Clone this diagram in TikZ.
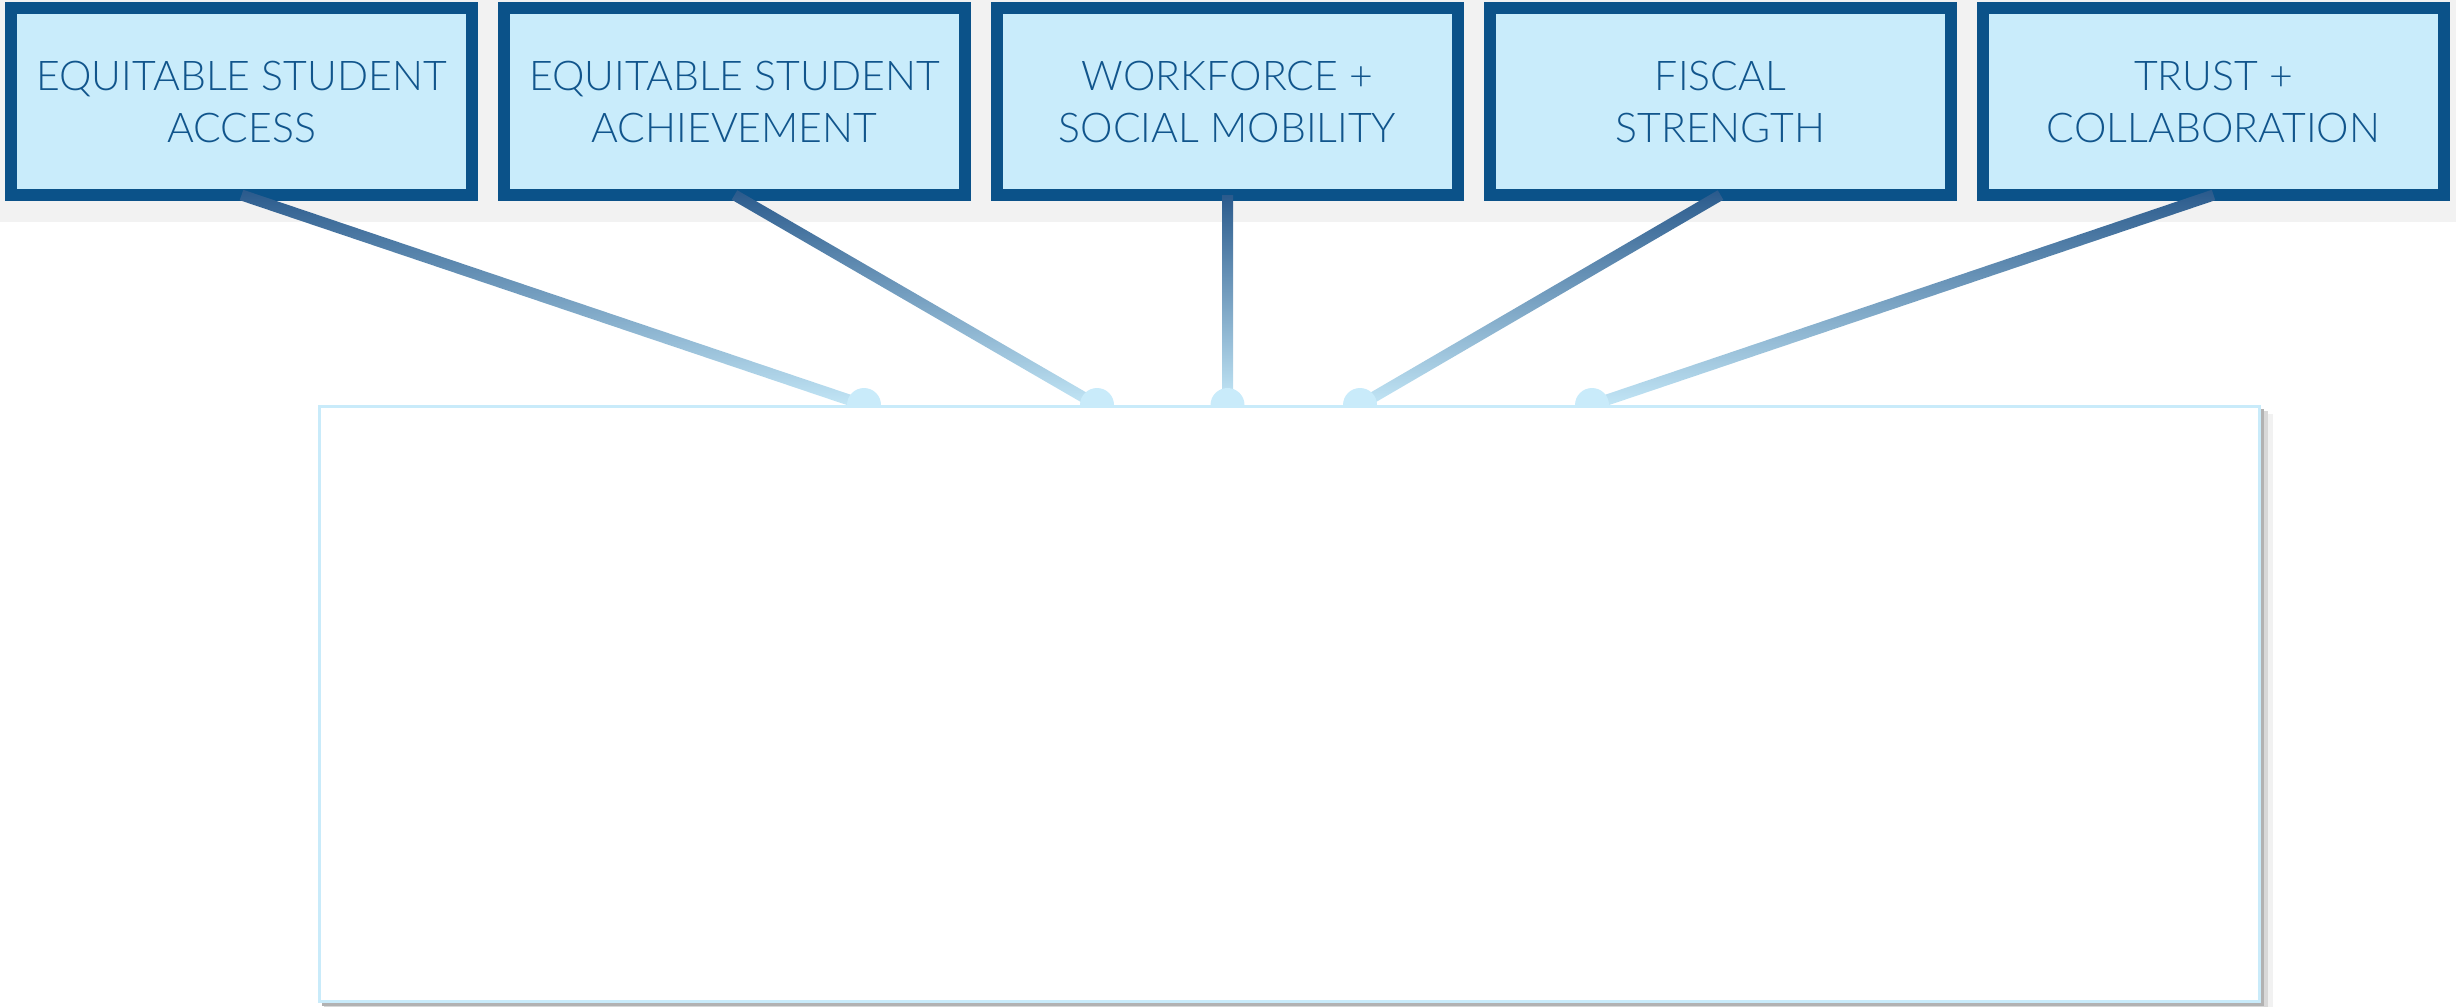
\documentclass[tikz,border=0pt]{standalone}
\usepackage{fontspec}
\setmainfont{Lato}[UprightFont=* Light]
\usetikzlibrary{calc}
\definecolor{navy}{HTML}{0B5289}
\definecolor{paleblue}{HTML}{C9ECFB}
\definecolor{labelblue}{HTML}{11558C}
\definecolor{bandgrey}{HTML}{F2F2F2}
\definecolor{linetop}{HTML}{2A5A8C}
\definecolor{linebottom}{HTML}{C6E9F8}
\definecolor{panelrim}{HTML}{C9EBFA}
\definecolor{shadowdark}{HTML}{B2B2B2}
\definecolor{shadowmid}{HTML}{D8D8D8}
\definecolor{shadowlight}{HTML}{F1F1F1}
\newcommand\linkline[2]{%
  \shade[top color=linetop, bottom color=linebottom]
    ($(#1)!2.75pt!90:(#2)$) -- ($(#2)!2.75pt!-90:(#1)$) --
    ($(#2)!2.75pt!90:(#1)$) -- ($(#1)!2.75pt!-90:(#2)$) -- cycle;}
\begin{document}
\begin{tikzpicture}[x=0.5pt,y=-0.5pt,
  pillar/.style={draw=navy, line width=6pt, fill=paleblue,
    minimum width=230.5pt, minimum height=93.5pt, inner sep=0pt, outer sep=0pt,
    align=center, text=labelblue, font=\fontsize{20.5}{26}\selectfont},
  panel/.style={draw=panelrim, line width=1.5pt, fill=white,
    minimum width=970pt, minimum height=297.5pt, inner sep=0pt, outer sep=0pt},
  bump/.style={fill=panelrim}]
\useasboundingbox (0,0) rectangle (2456,1007);
% grey band
\fill[bandgrey] (0,0) rectangle (2456,222);
% pillar boxes
\node[pillar] (b1) at (241.5,101.5) {EQUITABLE STUDENT\\ACCESS};
\node[pillar] (b2) at (734.5,101.5) {EQUITABLE STUDENT\\ACHIEVEMENT};
\node[pillar] (b3) at (1227.5,101.5) {WORKFORCE +\\SOCIAL MOBILITY};
\node[pillar] (b4) at (1720.5,101.5) {FISCAL\\STRENGTH};
\node[pillar] (b5) at (2213.5,101.5) {TRUST +\\COLLABORATION};
% connector ends on the panel top
\coordinate (e1) at (864,405);
\coordinate (e2) at (1097,405);
\coordinate (e3) at (1227.5,405);
\coordinate (e4) at (1360,405);
\coordinate (e5) at (1592,405);
% connectors
\linkline{b1.south}{e1}
\linkline{b2.south}{e2}
\linkline{b3.south}{e3}
\linkline{b4.south}{e4}
\linkline{b5.south}{e5}
\foreach \e in {e1,e2,e3,e4,e5} \fill[bump] (\e) circle (8.5pt);
% panel shadow
\fill[shadowlight] (326,414) rectangle (2273,1007);
\fill[shadowmid] (324,411) rectangle (2268,1007);
\fill[shadowdark] (322,409) rectangle (2264,1006);
% panel
\node[panel] (panel) at (1289.5,703.5) {};
\end{tikzpicture}
\end{document}
